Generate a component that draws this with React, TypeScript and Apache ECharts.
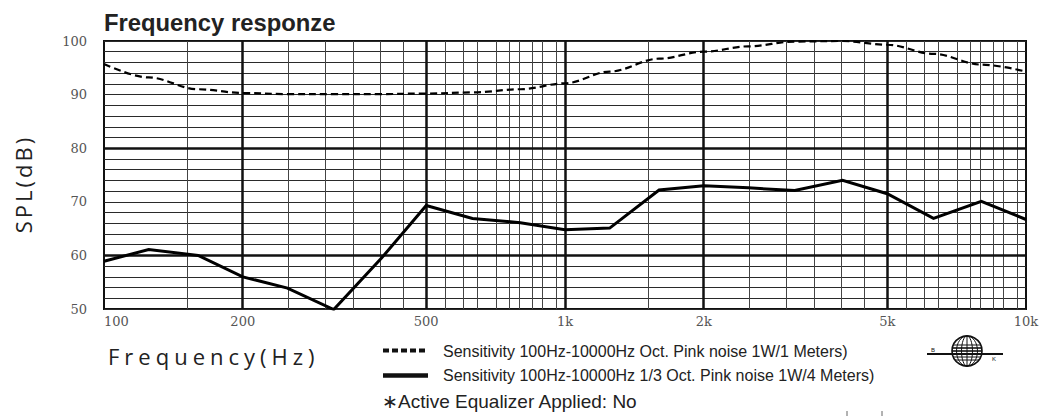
import React, { useEffect, useRef } from "react";
import * as echarts from "echarts";

// 1/3-octave centre frequencies (Hz)
const frequencies = [100, 125, 160, 200, 250, 315, 400, 500, 630, 800, 1000, 1250, 1600, 2000, 2500, 3150, 4000, 5000, 6300, 8000, 10000];
// Sensitivity, octave pink noise 1W/1m (dashed)
const octaveDb = [95.7, 93.2, 91.0, 90.3, 90.1, 90.1, 90.1, 90.2, 90.4, 91.0, 92.1, 94.3, 96.7, 98.0, 99.0, 99.9, 100.0, 99.3, 97.6, 95.6, 94.3];
// Sensitivity, 1/3 octave pink noise 1W/4m (solid)
const thirdOctaveDb = [58.9, 61.1, 60.0, 56.0, 53.9, 49.9, 59.5, 69.3, 66.9, 66.1, 64.8, 65.1, 72.2, 73.0, 72.6, 72.1, 74.0, 71.5, 66.9, 70.1, 66.7];

const tickFrequencies = [100, 200, 500, 1000, 2000, 5000, 10000];
const tickLabels = ["100", "200", "500", "1k", "2k", "5k", "10k"];
const minorGridFrequencies = [150, 250, 300, 350, 400, 450, 550, 600, 650, 700, 750, 800, 850, 900, 950, 1500, 2500, 3000, 3500, 4000, 4500, 5500, 6000, 6500, 7000, 7500, 8000, 8500, 9000, 9500];
const majorGridFrequencies = [200, 500, 1000, 2000, 5000];
const majorGridDb = [60, 80];

const seriesNames = [
  "Sensitivity 100Hz-10000Hz Oct. Pink noise 1W/1 Meters)",
  "Sensitivity 100Hz-10000Hz 1/3 Oct. Pink noise 1W/4 Meters)",
];
const noteText = "\u2217Active Equalizer Applied: No";

const lg = (f: number) => Math.log10(f);

export default function App() {
  const ref = useRef<HTMLDivElement>(null);
  useEffect(() => {
    if (!ref.current) return;
    const el = ref.current;
    const chart = echarts.init(el, undefined, { renderer: "svg" });
    const serif = "'DejaVu Serif', serif";
    const sans = "'Liberation Sans', Arial, sans-serif";

    const globeLines = [345, 348, 351, 357, 360].map((y) => {
      const dy = Math.abs(y - 351);
      const half = Math.sqrt(Math.max(0, 15 * 15 - dy * dy));
      return { type: "line", shape: { x1: 967 - half, y1: y, x2: 967 + half, y2: y }, style: { stroke: "#111", lineWidth: y === 348 || y === 351 ? 1.6 : 1 } };
    });

    const option: any = {
      animation: false,
      backgroundColor: "#ffffff",
      grid: { left: 104, right: 24, top: 41, bottom: 107, show: true, borderColor: "#111", borderWidth: 2, backgroundColor: "transparent" },
      xAxis: {
        type: "value",
        min: 2,
        max: 4,
        axisLine: { show: false },
        axisTick: { show: false },
        splitLine: { show: false },
        axisLabel: {
          customValues: tickFrequencies.map(lg),
          formatter: (v: number) => {
            const i = tickFrequencies.findIndex((f) => Math.abs(lg(f) - v) < 1e-6);
            return i >= 0 ? tickLabels[i] : "";
          },
          fontFamily: serif,
          fontSize: 13,
          color: "#555",
          margin: 6,
          alignMinLabel: "left",
        },
      },
      yAxis: {
        type: "value",
        min: 50,
        max: 100,
        interval: 2,
        axisLine: { show: false },
        axisTick: { show: false },
        splitLine: { show: true, lineStyle: { color: "#2a2a2a", width: 1 } },
        axisLabel: {
          formatter: (v: number) => (v % 10 === 0 ? String(v) : ""),
          fontFamily: serif,
          fontSize: 13,
          color: "#555",
          margin: 17,
        },
        name: "SPL(dB)",
        nameLocation: "middle",
        nameRotate: 90,
        nameGap: 70,
        nameTextStyle: { fontFamily: "'Open Sans', sans-serif", fontSize: 22, color: "#222", padding: [0, 18, 0, 0] },
      },
      series: [
        {
          type: "line",
          name: "grid",
          data: [],
          silent: true,
          z: 1,
          markLine: {
            silent: true,
            animation: false,
            symbol: ["none", "none"],
            label: { show: false },
            lineStyle: { type: "solid" },
            data: [
              ...minorGridFrequencies.map((f) => ({ xAxis: lg(f), lineStyle: { color: "#444", width: 1, type: "solid" } })),
              ...majorGridFrequencies.map((f) => ({ xAxis: lg(f), lineStyle: { color: "#111", width: 2.5, type: "solid" } })),
              ...majorGridDb.map((v) => ({ yAxis: v, lineStyle: { color: "#111", width: 2.5, type: "solid" } })),
            ],
          },
        },
        {
          type: "line",
          name: seriesNames[0],
          data: frequencies.map((f, i) => [lg(f), octaveDb[i]]),
          smooth: 0.35,
          smoothMonotone: "x",
          symbol: "none",
          showSymbol: false,
          z: 5,
          lineStyle: { color: "#000", width: 2.2, type: [7, 4] },
        },
        {
          type: "line",
          name: seriesNames[1],
          data: frequencies.map((f, i) => [lg(f), thirdOctaveDb[i]]),
          symbol: "none",
          showSymbol: false,
          z: 6,
          lineStyle: { color: "#000", width: 3, join: "miter" },
        },
      ],
      graphic: [
        { type: "text", x: 104, y: 22, style: { text: "Frequency responze", fontFamily: sans, fontWeight: "bold", fontSize: 23.8, fill: "#222", verticalAlign: "middle" } },
        { type: "text", x: 108, y: 356, style: { text: "Frequency(Hz)", fontFamily: "'Open Sans', sans-serif", fontSize: 22, fill: "#222", verticalAlign: "middle" } },
        { type: "line", shape: { x1: 383, y1: 350.5, x2: 428, y2: 350.5 }, style: { stroke: "#111", lineWidth: 4, lineDash: [6, 3] } },
        { type: "line", shape: { x1: 383, y1: 375.5, x2: 428, y2: 375.5 }, style: { stroke: "#111", lineWidth: 4.5 } },
        { type: "text", x: 443, y: 351, style: { text: seriesNames[0], fontFamily: sans, fontSize: 16, fill: "#222", verticalAlign: "middle" } },
        { type: "text", x: 443, y: 375.5, style: { text: seriesNames[1], fontFamily: sans, fontSize: 16, fill: "#222", verticalAlign: "middle" } },
        { type: "text", x: 382, y: 401, style: { text: noteText, fontFamily: sans, fontSize: 19, fill: "#222", verticalAlign: "middle" } },
        {
          type: "group",
          children: [
            { type: "circle", shape: { cx: 967, cy: 351, r: 15 }, style: { fill: "none", stroke: "#111", lineWidth: 1.6 } },
            { type: "ellipse", shape: { cx: 967, cy: 351, rx: 10.5, ry: 15 }, style: { fill: "none", stroke: "#111", lineWidth: 1 } },
            { type: "ellipse", shape: { cx: 967, cy: 351, rx: 5.5, ry: 15 }, style: { fill: "none", stroke: "#111", lineWidth: 1 } },
            { type: "line", shape: { x1: 967, y1: 336, x2: 967, y2: 366 }, style: { stroke: "#111", lineWidth: 1 } },
            ...globeLines,
            { type: "line", shape: { x1: 927, y1: 354, x2: 1003, y2: 354 }, style: { stroke: "#111", lineWidth: 2.2 } },
            { type: "text", x: 933, y: 349.5, style: { text: "B", fontFamily: sans, fontSize: 6, fill: "#111", align: "center", verticalAlign: "middle" } },
            { type: "text", x: 994, y: 358.5, style: { text: "K", fontFamily: sans, fontSize: 6, fill: "#111", align: "center", verticalAlign: "middle" } },
          ],
        },
        { type: "line", shape: { x1: 847, y1: 411, x2: 847, y2: 416 }, style: { stroke: "#666", lineWidth: 1 } },
        { type: "line", shape: { x1: 882, y1: 411, x2: 882, y2: 416 }, style: { stroke: "#666", lineWidth: 1 } },
      ],
    };
    chart.setOption(option);

    const spacing = () => {
      el.querySelectorAll("text").forEach((t) => {
        const s = t.textContent || "";
        if (s === "Frequency(Hz)") t.setAttribute("letter-spacing", "5");
        if (s === "SPL(dB)") t.setAttribute("letter-spacing", "3");
      });
    };
    chart.on("finished", spacing);
    spacing();
    const timer = setTimeout(spacing, 50);
    return () => {
      clearTimeout(timer);
      chart.dispose();
    };
  }, []);
  return <div ref={ref} style={{ position: "fixed", left: 0, top: 0, width: 1050, height: 416 }} />;
}
